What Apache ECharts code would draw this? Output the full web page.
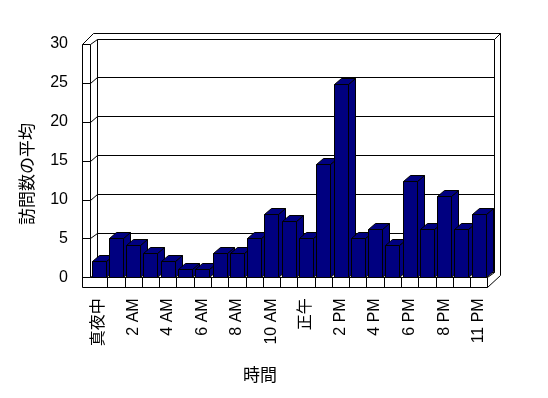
<!DOCTYPE html>
<html><head><meta charset="utf-8">
<script src="https://cdn.jsdelivr.net/npm/echarts@6/dist/echarts.min.js"></script>
<style>html,body{margin:0;padding:0;background:#fff}#c{width:548px;height:398px}</style>
</head><body><div id="c"></div>
<script>
const categories = ['真夜中','1 AM','2 AM','3 AM','4 AM','5 AM','6 AM','7 AM','8 AM','9 AM','10 AM','11 AM','正午','1 PM','2 PM','3 PM','4 PM','5 PM','6 PM','7 PM','8 PM','10 PM','11 PM'];
const values = [2.1, 5.1, 4.1, 3.1, 2.05, 1.03, 1.03, 3.1, 3.1, 5.1, 8.2, 7.2, 5.1, 14.6, 24.9, 5.1, 6.2, 4.1, 12.4, 6.2, 10.4, 6.2, 8.2];
const yTicks = [0, 5, 10, 15, 20, 25, 30];
const xTitle = '時間';
const yTitle = '訪問数の平均';

const FONT = "'Liberation Sans', 'Noto Sans CJK JP', sans-serif";
const DX = 6.5, DY = -5.5;
const chart = echarts.init(document.getElementById('c'), null, {renderer: 'canvas'});
const r = v => Math.round(v) + 0.5;
const lineStyle = {stroke: '#000', lineWidth: 1, fill: null};
function seg(x1, y1, x2, y2) {
  return {type: 'line', shape: {x1: x1, y1: y1, x2: x2, y2: y2}, style: lineStyle, silent: true};
}

function renderFrame(params, api) {
  const cs = params.coordSys;
  const L = cs.x, R = cs.x + cs.width, T = cs.y, B = cs.y + cs.height;
  const OL = L - 8, FB = B + 10;
  const ch = [];
  yTicks.forEach(v => {
    const y = api.coord([0, v])[1];
    ch.push(seg(r(L + DX), r(y + DY), r(R + DX), r(y + DY)));
    ch.push(seg(r(OL), r(y), r(L), r(y)));
    ch.push(seg(r(L), r(y), r(L + DX), r(y + DY)));
  });
  ch.push(seg(r(L + DX), r(T + DY), r(L + DX), r(B + DY)));
  ch.push(seg(r(R + DX), r(T + DY), r(R + DX), r(B + DY)));
  ch.push(seg(r(OL), r(T), r(OL), r(FB)));
  ch.push(seg(r(L), r(T), r(L), r(B)));
  ch.push(seg(r(OL), r(T), r(L + 3), r(T - 11)));
  ch.push(seg(r(L + 3), r(T - 11), r(R + 13), r(T - 11)));
  ch.push(seg(r(R + DX), r(T + DY), r(R + 13), r(T - 11)));
  ch.push(seg(r(R + 13), r(T - 11), r(R + 13), r(B - 2)));
  ch.push(seg(r(L), r(B), r(R), r(B)));
  ch.push(seg(r(OL), r(FB), r(R), r(FB)));
  ch.push(seg(r(R), r(B), r(R), r(FB)));
  ch.push(seg(r(R), r(B), r(R + DX), r(B + DY)));
  ch.push(seg(r(R), r(FB), r(R + 13), r(B - 2)));
  const n = categories.length;
  for (let k = 1; k < n; k++) {
    const x = L + cs.width * k / n;
    ch.push(seg(r(x), r(B), r(x), r(FB)));
  }
  return {type: 'group', children: ch};
}

function renderBar(params, api) {
  const idx = api.value(0), val = api.value(1);
  const top = api.coord([idx, val]);
  const base = api.coord([idx, 0]);
  const bw = api.size([1, 0])[0];
  const w = Math.round(bw * 0.81);
  const x0 = Math.round(top[0] - w / 2) + 0.5, x1 = x0 + w;
  const yt = Math.round(top[1]) + 0.5, yb = Math.round(base[1]) + 0.5;
  const dx = 7, dy = -6;
  const st = {fill: '#000080', stroke: '#000', lineWidth: 1};
  return {type: 'group', children: [
    {type: 'polygon', shape: {points: [[x1, yt], [x1 + dx, yt + dy], [x1 + dx, yb + dy], [x1, yb]]}, style: st},
    {type: 'polygon', shape: {points: [[x0, yt], [x1, yt], [x1 + dx, yt + dy], [x0 + dx, yt + dy]]}, style: st},
    {type: 'rect', shape: {x: x0, y: yt, width: w, height: yb - yt}, style: st}
  ]};
}

chart.setOption({
  backgroundColor: '#fff',
  animation: false,
  grid: {left: 90, right: 60.6, top: 44, bottom: 120.7},
  xAxis: {
    type: 'category', data: categories,
    axisLine: {show: false}, axisTick: {show: false},
    axisLabel: {interval: 1, rotate: 90, margin: 21, fontSize: 16, color: '#000', fontFamily: FONT}
  },
  yAxis: {
    type: 'value', min: 0, max: 30, interval: 5,
    axisLine: {show: false}, axisTick: {show: false}, splitLine: {show: false},
    axisLabel: {margin: 22, fontSize: 16, color: '#000', fontFamily: FONT}
  },
  graphic: [
    {type: 'text', x: 28, y: 174, rotation: Math.PI / 2,
     style: {text: yTitle, fontSize: 17, fontFamily: FONT, fill: '#000', align: 'center', verticalAlign: 'middle'}},
    {type: 'text', x: 260, y: 376,
     style: {text: xTitle, fontSize: 17, fontFamily: FONT, fill: '#000', align: 'center', verticalAlign: 'middle'}}
  ],
  series: [
    {type: 'custom', z: 1, silent: true, data: [[0, 0]], renderItem: renderFrame},
    {type: 'custom', z: 2, silent: true, data: values.map((v, i) => [i, v]), renderItem: renderBar}
  ]
});
</script>
</body></html>
